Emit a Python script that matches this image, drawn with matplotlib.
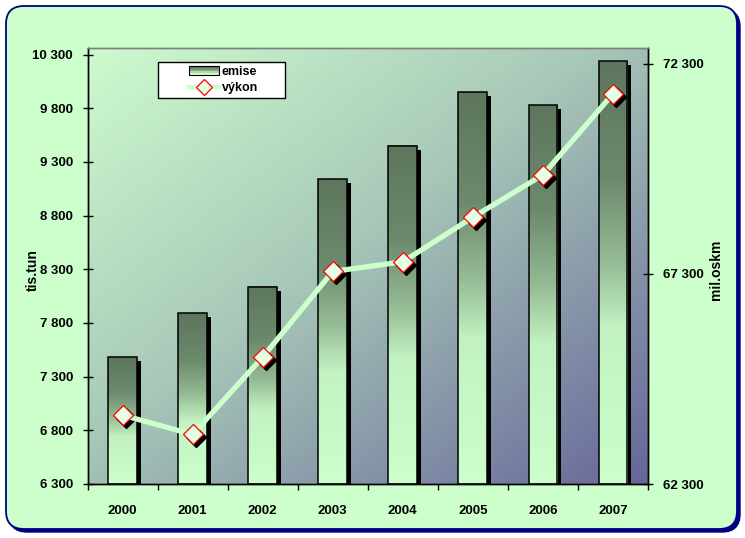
import numpy as np
import matplotlib
matplotlib.use("Agg")
import matplotlib.pyplot as plt
from matplotlib import font_manager
from matplotlib.colors import LinearSegmentedColormap
from matplotlib.patches import FancyBboxPatch, Rectangle
from matplotlib.lines import Line2D
from matplotlib.legend_handler import HandlerBase
from matplotlib.ticker import FixedLocator, FuncFormatter
from matplotlib.transforms import ScaledTranslation


years = ["2000", "2001", "2002", "2003", "2004", "2005", "2006", "2007"]
emise = [7480, 7890, 8140, 9140, 9450, 9950, 9830, 10240]
vykon = [63940, 63480, 65320, 67360, 67590, 68650, 69660, 71590]
left_ticks = [6300, 6800, 7300, 7800, 8300, 8800, 9300, 9800, 10300]
right_ticks = [62300, 67300, 72300]

FIG_BG = "#ccffcc"
BORDER = "#000080"
LINE_COLOR = "#ccffcc"
MARKER_FACE = "#e4ffe4"
MARKER_EDGE = "#ff0000"

names = {f.name for f in font_manager.fontManager.ttflist}
FONT = "Liberation Sans Narrow" if "Liberation Sans Narrow" in names else "Liberation Sans"
plt.rcParams["font.family"] = [FONT, "DejaVu Sans"]
plt.rcParams["font.weight"] = "bold"

bar_cmap = LinearSegmentedColormap.from_list(
    "bar", [(0.0, "#5d765d"), (0.28, "#6d8a6d"), (0.47, "#94ba94"),
            (0.63, "#c2f2c2"), (1.0, "#ccffcc")])
bg_cmap = LinearSegmentedColormap.from_list(
    "bg", [(0.0, "#cefbce"), (0.45, "#a8c8b8"), (1.0, "#666699")])

W, H = 745, 538
fig = plt.figure(figsize=(W / 100, H / 100), dpi=100)
fig.patch.set_facecolor("white")

# rounded chart frame with a dark shadow
frame = fig.add_axes([0, 0, 1, 1], zorder=0)
frame.set_xlim(0, W)
frame.set_ylim(H, 0)
frame.axis("off")
frame.add_patch(FancyBboxPatch((9, 9), 731, 523, boxstyle="round,pad=0,rounding_size=18",
                               facecolor=BORDER, edgecolor=BORDER, lw=1))
frame.add_patch(FancyBboxPatch((6, 6), 731, 523, boxstyle="round,pad=0,rounding_size=18",
                               facecolor=FIG_BG, edgecolor=BORDER, lw=1.3))

x0, x1, y0, y1 = 87.5, 648, 48, 484
ax = fig.add_axes([x0 / W, 1 - y1 / H, (x1 - x0) / W, (y1 - y0) / H], zorder=1)
ax2 = ax.twinx()
ax2.set_zorder(2)
ax2.patch.set_visible(False)

# plot area gradient, light top-left to slate bottom-right
gx, gy = np.meshgrid(np.linspace(0, 1, 300), np.linspace(0, 1, 300))
ax.imshow((gx + gy) / 2, extent=(0, 1, 0, 1), transform=ax.transAxes, origin="upper",
          cmap=bg_cmap, aspect="auto", zorder=0, interpolation="bilinear")

x = np.arange(len(years))
width = 0.41
ymin, ymax = 6300, 10362

shadow = ax.transData + ScaledTranslation(4 / 100, -4 / 100, fig.dpi_scale_trans)
ax.bar(x, np.array(emise) - ymin, bottom=ymin, width=width, color="black",
       transform=shadow, zorder=1)
grad = np.linspace(0, 1, 256).reshape(-1, 1)
for xi, v in zip(x, emise):
    ax.imshow(grad, extent=(xi - width / 2, xi + width / 2, ymin, v), origin="upper",
              cmap=bar_cmap, aspect="auto", zorder=2, interpolation="bilinear")
ax.bar(x, np.array(emise) - ymin, bottom=ymin, width=width, fill=False,
       edgecolor="black", lw=1.1, zorder=3)

ax.set_xlim(-0.5, len(years) - 0.5)
ax.set_ylim(ymin, ymax)

# line on the secondary axis
mshadow = ax2.transData + ScaledTranslation(3 / 100, -3 / 100, fig.dpi_scale_trans)
ax2.plot(x, vykon, ls="none", marker="D", ms=10, mfc="black", mec="black",
         transform=mshadow, zorder=2)
ax2.plot(x, vykon, color=LINE_COLOR, lw=3.8, marker="D", ms=10.5, mfc=MARKER_FACE,
         mec=MARKER_EDGE, mew=0.9, zorder=3, solid_capstyle="butt")
ax2.set_ylim(62300, 72680)

fmt = FuncFormatter(lambda v, p: f"{v:,.0f}".replace(",", " "))
ax.yaxis.set_major_locator(FixedLocator(left_ticks))
ax.yaxis.set_major_formatter(fmt)
ax2.yaxis.set_major_locator(FixedLocator(right_ticks))
ax2.yaxis.set_major_formatter(fmt)

ax.set_xticks(x)
ax.set_xticklabels(years)
ax.set_xticks(np.arange(len(years) + 1) - 0.5, minor=True)
ax.tick_params(axis="x", which="major", length=0, pad=15, labelsize=9.5)
ax.tick_params(axis="x", which="minor", length=4, width=1, direction="out")
ax.tick_params(axis="y", length=7, width=1, direction="inout", pad=7, labelsize=9.5)
ax2.tick_params(axis="y", length=7, width=1, direction="inout", pad=7, labelsize=9.5)

for a in (ax, ax2):
    for side in ("left", "right", "bottom"):
        a.spines[side].set_color("black")
        a.spines[side].set_linewidth(1)
    a.spines["top"].set_color("#808080")
    a.spines["top"].set_linewidth(1)

fig.text(33 / W, 1 - 270 / H, "tis.tun", rotation=90, ha="center", va="center",
         fontsize=10, fontweight="bold")
fig.text(716 / W, 1 - 270 / H, "mil.oskm", rotation=90, ha="center", va="center",
         fontsize=10, fontweight="bold")


class GradientHandler(HandlerBase):
    def create_artists(self, legend, orig, xd, yd, w, h, fontsize, trans):
        parts = []
        colors = ["#5d765d", "#6f8f6f", "#8db38d", "#acd8ac", "#ccffcc"]
        n = len(colors)
        for i, c in enumerate(colors):
            parts.append(Rectangle((-xd, -yd + h * (n - 1 - i) / n), w, h / n,
                                   facecolor=c, edgecolor="none", transform=trans))
        parts.append(Rectangle((-xd, -yd), w, h, facecolor="none", edgecolor="black",
                               lw=0.8, transform=trans))
        return parts


# legend frame drawn in axes coordinates, entries centred inside it
lx0, lx1 = (158 - x0) / (x1 - x0), (285 - x0) / (x1 - x0)
ly0, ly1 = (y1 - 98) / (y1 - y0), (y1 - 62) / (y1 - y0)
ax2.add_patch(Rectangle((lx0, ly0), lx1 - lx0, ly1 - ly0, transform=ax2.transAxes,
                        facecolor="white", edgecolor="black", lw=1, zorder=4))
bar_handle = Rectangle((0, 0), 1, 1)
line_handle = Line2D([], [], color=LINE_COLOR, lw=3.2, marker="D", ms=8,
                     mfc=MARKER_FACE, mec=MARKER_EDGE, mew=0.9)
leg = ax2.legend([bar_handle, line_handle], ["emise", "výkon"],
                 handler_map={Rectangle: GradientHandler()},
                 loc="center", bbox_to_anchor=((lx0 + lx1) / 2 + 0.004, (ly0 + ly1) / 2),
                 borderaxespad=0, frameon=False, handlelength=2.4, handleheight=0.65,
                 handletextpad=0.2, labelspacing=0.35, borderpad=0,
                 prop={"weight": "bold", "size": 9})
leg.set_zorder(5)

fig.savefig("out.png", dpi=100)
